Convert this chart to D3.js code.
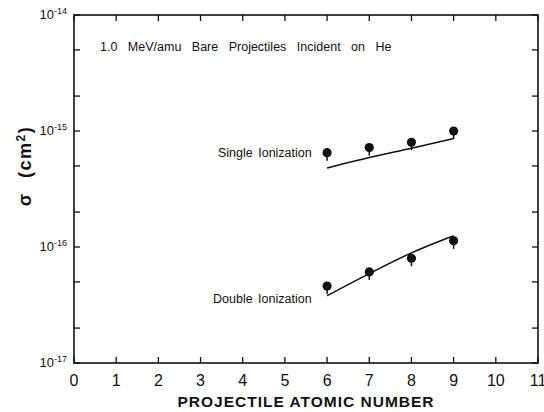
<!DOCTYPE html>
<html>
<head>
<meta charset="utf-8">
<script src="https://cdn.jsdelivr.net/npm/d3@7"></script>
<style>
  body { margin: 0; background: #fff; }
  text { font-family: 'Liberation Sans', Arial, sans-serif; fill: #111; }
  .tick-label { font-size: 16px; }
  .axis-title { font-size: 16px; font-weight: bold; }
  .note { font-size: 12.5px; }
</style>
</head>
<body>
<svg width="544" height="412"></svg>
<script>
const svg = d3.select('svg');

// data
const atomicNumbers = [6, 7, 8, 9];
const singleMeasured = [6.5e-16, 7.2e-16, 8.0e-16, 1.0e-15];
const singleTheory = [4.8e-16, 5.9e-16, 7.1e-16, 8.6e-16];
const doubleMeasured = [4.6e-17, 6.1e-17, 8.0e-17, 1.13e-16];
const doubleTheory = [3.8e-17, 5.9e-17, 8.9e-17, 1.25e-16];
const xTicks = d3.range(0, 12);
const yMajor = [-17, -16, -15, -14];
const yMinor = [2e-17, 5e-17, 2e-16, 5e-16, 2e-15, 5e-15];

const margin = {top: 15, right: 6, bottom: 49, left: 74};
const width = 544, height = 412;
const innerWidth = width - margin.left - margin.right;
const innerHeight = height - margin.top - margin.bottom;

const xScale = d3.scaleLinear().domain([0, 11]).range([0, innerWidth]);
const yScale = d3.scaleLog().domain([1e-17, 1e-14]).range([innerHeight, 0]);

const g = svg.append('g')
    .attr('transform', `translate(${margin.left}, ${margin.top})`);

// frame
g.append('rect')
    .attr('width', innerWidth)
    .attr('height', innerHeight)
    .attr('fill', 'none')
    .attr('stroke', '#111')
    .attr('stroke-width', 1.6);

const tickLen = 6;
const allY = yMajor.map(e => Math.pow(10, e)).concat(yMinor);

// inward ticks on all four sides
g.selectAll('.xt-bottom').data(xTicks).join('line')
    .attr('x1', d => xScale(d)).attr('x2', d => xScale(d))
    .attr('y1', innerHeight).attr('y2', innerHeight - tickLen)
    .attr('stroke', '#111').attr('stroke-width', 1.3);
g.selectAll('.xt-top').data(xTicks).join('line')
    .attr('x1', d => xScale(d)).attr('x2', d => xScale(d))
    .attr('y1', 0).attr('y2', tickLen)
    .attr('stroke', '#111').attr('stroke-width', 1.3);
g.selectAll('.yt-left').data(allY).join('line')
    .attr('x1', 0).attr('x2', tickLen)
    .attr('y1', d => yScale(d)).attr('y2', d => yScale(d))
    .attr('stroke', '#111').attr('stroke-width', 1.3);
g.selectAll('.yt-right').data(allY).join('line')
    .attr('x1', innerWidth).attr('x2', innerWidth - tickLen)
    .attr('y1', d => yScale(d)).attr('y2', d => yScale(d))
    .attr('stroke', '#111').attr('stroke-width', 1.3);

// x tick labels
g.selectAll('.x-label').data(xTicks).join('text')
    .attr('class', 'tick-label')
    .attr('x', d => xScale(d))
    .attr('y', innerHeight + 23)
    .attr('text-anchor', 'middle')
    .text(d => d);

// y tick labels: 10^-n
const yLab = g.selectAll('.y-label').data(yMajor).join('text')
    .attr('x', -7)
    .attr('y', d => yScale(Math.pow(10, d)) + 4)
    .attr('text-anchor', 'end')
    .style('font-size', '13px');
yLab.append('tspan').text('10');
yLab.append('tspan')
    .attr('dy', -5)
    .style('font-size', '9px')
    .text(d => '-' + Math.abs(d));

// axis titles
g.append('text')
    .attr('class', 'axis-title')
    .attr('x', xScale(5.5))
    .attr('y', innerHeight + 44)
    .attr('text-anchor', 'middle')
    .style('font-size', '15.5px')
    .style('letter-spacing', '1px')
    .text('PROJECTILE ATOMIC NUMBER');

const yt = g.append('text')
    .attr('class', 'axis-title')
    .attr('transform', `translate(-43, ${yScale(2e-16) - 46}) rotate(-90)`)
    .attr('text-anchor', 'middle')
    .style('font-size', '18px')
    .style('word-spacing', '8px')
    .style('letter-spacing', '1.5px');
yt.append('tspan').text('σ (cm');
yt.append('tspan').attr('dy', -6).style('font-size', '12px').text('2');
yt.append('tspan').attr('dy', 6).text(')');

// annotation
g.append('text')
    .attr('class', 'note')
    .attr('x', 26)
    .attr('y', 36)
    .style('word-spacing', '7px')
    .text('1.0 MeV/amu Bare Projectiles Incident on He');

g.append('text')
    .attr('class', 'note')
    .attr('x', 144)
    .attr('y', 142)
    .style('word-spacing', '2px')
    .text('Single Ionization');

g.append('text')
    .attr('class', 'note')
    .attr('x', 139)
    .attr('y', 288)
    .style('word-spacing', '2px')
    .text('Double Ionization');

// theory curves
const line = d3.line()
    .x(d => xScale(d[0]))
    .y(d => yScale(d[1]))
    .curve(d3.curveMonotoneX);

[singleTheory, doubleTheory].forEach(series => {
    g.append('path')
        .attr('d', line(d3.zip(atomicNumbers, series)))
        .attr('fill', 'none')
        .attr('stroke', '#111')
        .attr('stroke-width', 1.5);
});

// measured points with short lower error tails
[singleMeasured, doubleMeasured].forEach(series => {
    const pts = d3.zip(atomicNumbers, series);
    g.selectAll(null).data(pts).join('line')
        .attr('x1', d => xScale(d[0])).attr('x2', d => xScale(d[0]))
        .attr('y1', d => yScale(d[1]))
        .attr('y2', d => yScale(d[1]) + 8)
        .attr('stroke', '#111')
        .attr('stroke-width', 1.5);
    g.selectAll(null).data(pts).join('circle')
        .attr('cx', d => xScale(d[0]))
        .attr('cy', d => yScale(d[1]))
        .attr('r', 4.6)
        .attr('fill', '#111');
});
</script>
</body>
</html>
